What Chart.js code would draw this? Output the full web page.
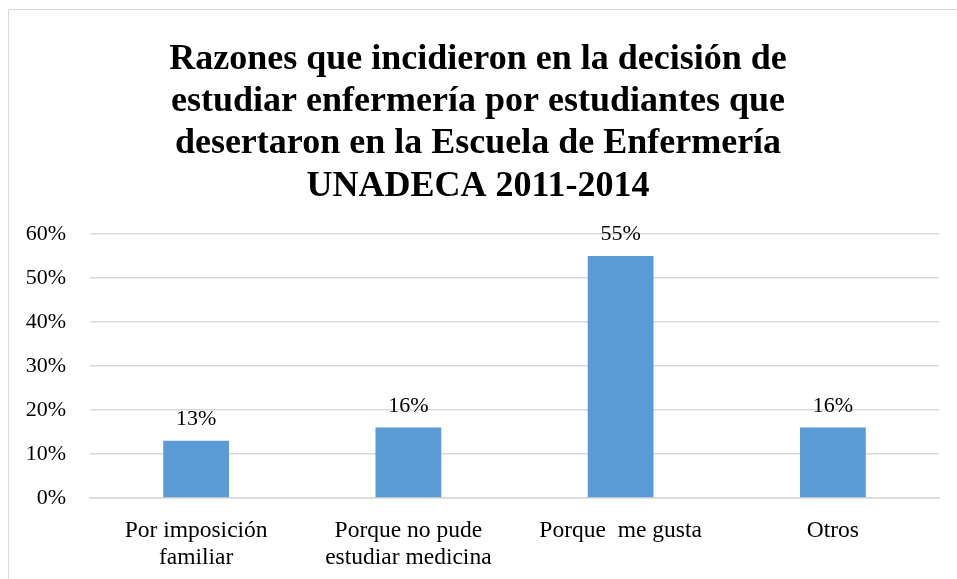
<!DOCTYPE html>
<html>
<head>
<meta charset="utf-8">
<script src="https://cdn.jsdelivr.net/npm/chart.js@4.4.0/dist/chart.umd.min.js"></script>
<style>
  body { margin: 0; background: #fff; }
  #wrap { position: relative; width: 957px; height: 579px; }
  #frame { position: absolute; left: 8px; top: 9px; right: -2px; bottom: -2px; border: 1px solid #d9d9d9; }
  canvas { position: absolute; left: 0; top: 0; }
</style>
</head>
<body>
<div id="wrap">
  <div id="frame"></div>
  <canvas id="chart" width="957" height="579"></canvas>
</div>
<script>
'use strict';

// DATA
const categories = [
  ['Por imposición', 'familiar'],
  ['Porque no pude', 'estudiar medicina'],
  'Porque  me gusta',
  'Otros'
];
const percentages = [13, 16, 55, 16];
const yTicks = [0, 10, 20, 30, 40, 50, 60];

const titleLines = [
  'Razones que incidieron en la decisión de',
  'estudiar enfermería por estudiantes que',
  'desertaron en la Escuela de Enfermería',
  'UNADECA 2011-2014'
];

const SERIF = '"Liberation Serif", "Times New Roman", serif';

// labels drawn on top of each bar
const barLabels = {
  id: 'barLabels',
  afterDatasetsDraw(chart) {
    const ctx = chart.ctx;
    const meta = chart.getDatasetMeta(0);
    ctx.save();
    ctx.font = '22px ' + SERIF;
    ctx.fillStyle = '#000';
    ctx.textAlign = 'center';
    ctx.textBaseline = 'alphabetic';
    meta.data.forEach((bar, i) => {
      ctx.fillText(percentages[i] + '%', bar.x, bar.y - 16);
    });
    ctx.restore();
  }
};

const ctx = document.getElementById('chart');

new Chart(ctx, {
  type: 'bar',
  data: {
    labels: categories,
    datasets: [{
      data: percentages,
      backgroundColor: '#5b9bd5',
      borderWidth: 0,
      barPercentage: 0.62,
      categoryPercentage: 0.5
    }]
  },
  options: {
    responsive: false,
    animation: false,
    layout: { padding: { left: 17, right: 18, top: 38, bottom: 0 } },
    plugins: {
      legend: { display: false },
      tooltip: { enabled: false },
      title: {
        display: true,
        text: titleLines,
        color: '#000',
        font: { family: SERIF, size: 36, weight: 'bold', lineHeight: 1.18 },
        padding: { top: 0, bottom: 26 }
      }
    },
    scales: {
      x: {
        grid: { display: false },
        border: { color: '#d9d9d9', width: 1.5 },
        ticks: {
          color: '#000',
          font: { family: SERIF, size: 23.5, lineHeight: 1.15 },
          maxRotation: 0,
          autoSkip: false,
          padding: 11
        },
        afterFit(scale) { scale.height = 81; }
      },
      y: {
        min: 0,
        max: 60,
        afterBuildTicks(scale) {
          scale.ticks = yTicks.map(v => ({ value: v }));
        },
        grid: { color: '#d9d9d9', lineWidth: 1.5, drawTicks: false },
        border: { display: false },
        ticks: {
          color: '#000',
          font: { family: SERIF, size: 22 },
          padding: 24,
          callback: v => v + '%'
        },
        afterFit(scale) { scale.width = 73; }
      }
    }
  },
  plugins: [barLabels]
});
</script>
</body>
</html>
